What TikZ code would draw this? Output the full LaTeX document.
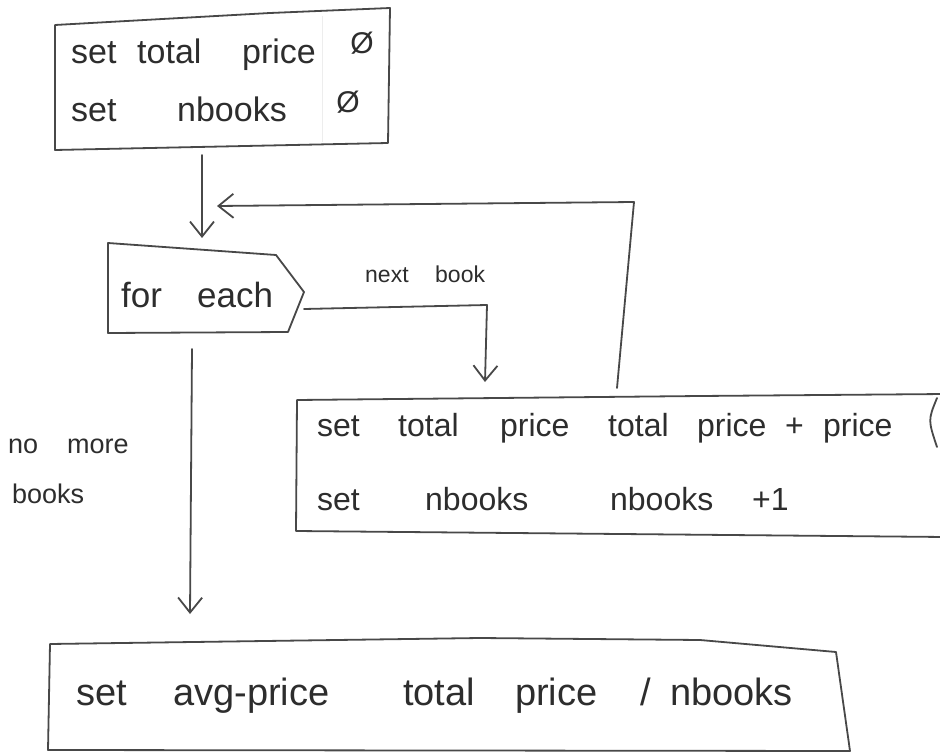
\documentclass[tikz,border=0pt]{standalone}
\usepackage{fontspec}
\setmainfont{Liberation Sans}
\usetikzlibrary{arrows.meta}
\definecolor{inkc}{RGB}{72,72,72}
\definecolor{textc}{RGB}{45,45,45}
\newcommand\myfs[1]{\fontsize{#1}{#1}\selectfont}
\begin{document}
\begin{tikzpicture}[x=1pt,y=-1pt,
  ink/.style={draw=inkc, line width=1.8pt, line cap=round, line join=round},
  faint/.style={draw=black!7, line width=0.8pt},
  arr/.style={ink, -{Straight Barb[length=15pt,width=24pt,line width=1.8pt]}},
  txt/.style={anchor=base west, inner sep=0pt, text=textc},
  zero/.style={anchor=center, inner sep=0pt, text=textc, font=\myfs{30}},
]
\useasboundingbox (0,0) rectangle (940,754);
\fill[white] (0,0) rectangle (940,754);
\clip (0,0) rectangle (940,754);

% ---- top box
\coordinate (tbA) at (55,25);
\coordinate (tbB) at (270,13);
\coordinate (tbC) at (390,8);
\coordinate (tbD) at (388,143);
\coordinate (tbE) at (55,150);
\draw[ink] (tbA) -- (tbB) -- (tbC) -- (tbD) -- (tbE) -- cycle;
\draw[faint] (322,16) -- (322,142);
\node[txt, font=\myfs{34}] (t1) at (71,64) {\makebox[66pt][l]{set}\makebox[105pt][l]{total}price};
\node[zero] (z1) at (362,43) {Ø};
\node[txt, font=\myfs{34}] (t2) at (71,122) {\makebox[106pt][l]{set}nbooks};
\node[zero] (z2) at (348,102) {Ø};

% ---- for each
\coordinate (feA) at (108,243);
\coordinate (feB) at (276,255);
\coordinate (feC) at (304,292);
\coordinate (feD) at (288,332);
\coordinate (feE) at (108,333);
\draw[ink] (feA) -- (feB) -- (feC) -- (feD) -- (feE) -- cycle;
\node[txt, font=\myfs{35}] (fe) at (121,307) {\makebox[76pt][l]{for}each};

% ---- next book label
\node[txt, font=\myfs{23}] (nb) at (365,282) {\makebox[70pt][l]{next}book};

% ---- no more books label
\node[txt, font=\myfs{27}] (nm1) at (8,453) {\makebox[59pt][l]{no}more};
\node[txt, font=\myfs{27}] (nm2) at (12,503) {books};

% ---- middle box (runs past the right edge)
\coordinate (mbA) at (945,394);
\coordinate (mbB) at (700,396);
\coordinate (mbC) at (297,400);
\coordinate (mbD) at (296,531);
\coordinate (mbE) at (945,537);
\draw[ink] (mbA) -- (mbB) -- (mbC) -- (mbD) -- (mbE);
\draw[ink] (937,398) .. controls (928,420) .. (937,447);
\node[txt, font=\myfs{32}] (m1) at (317,436)
  {\makebox[81pt][l]{set}\makebox[102pt][l]{total}\makebox[108pt][l]{price}\makebox[89pt][l]{total}\makebox[88pt][l]{price}\makebox[38pt][l]{+}price};
\node[txt, font=\myfs{32}] (m2) at (317,510)
  {\makebox[108pt][l]{set}\makebox[185pt][l]{nbooks}\makebox[142pt][l]{nbooks}+1};

% ---- bottom box
\coordinate (bbA) at (50,644);
\coordinate (bbB) at (480,638);
\coordinate (bbC) at (700,640);
\coordinate (bbD) at (836,652);
\coordinate (bbE) at (850,751);
\coordinate (bbF) at (48,750);
\draw[ink] (bbA) -- (bbB) -- (bbC) -- (bbD) -- (bbE) -- (bbF) -- cycle;
\node[txt, font=\myfs{38}] (b1) at (76,705)
  {\makebox[97pt][l]{set}\makebox[230pt][l]{avg-price}\makebox[112pt][l]{total}\makebox[125pt][l]{price}\makebox[30pt][l]{/}nbooks};

% ---- connectors
\coordinate (a1s) at (202,155);
\coordinate (a1e) at (202,238);
\draw[arr] (a1s) -- (a1e);

\coordinate (fbs) at (617,388);
\coordinate (fbc) at (634,202);
\coordinate (fbe) at (217,206);
\draw[arr] (fbs) -- (fbc) -- (fbe);

\coordinate (nbs) at (304,309);
\coordinate (nbc) at (487,305);
\coordinate (nbe) at (485,382);
\draw[arr] (nbs) -- (nbc) -- (nbe);

\coordinate (nms) at (192,349);
\coordinate (nme) at (190,614);
\draw[arr] (nms) -- (nme);
\end{tikzpicture}
\end{document}
